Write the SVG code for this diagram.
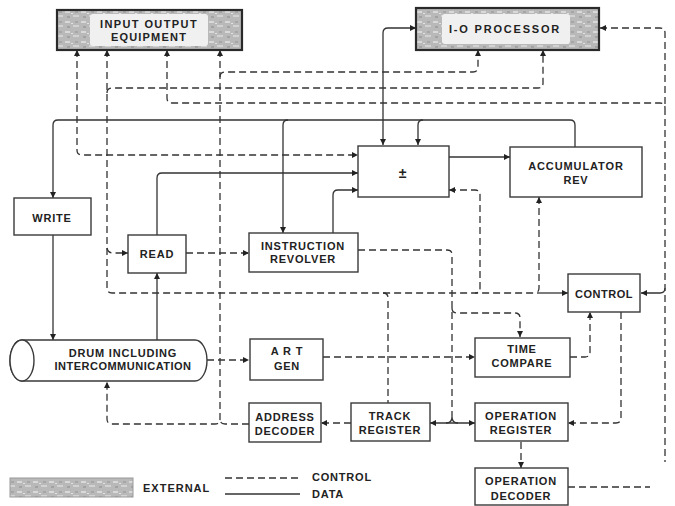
<svg xmlns="http://www.w3.org/2000/svg" width="675" height="506" viewBox="0 0 675 506">
<defs>
<pattern id="mottle" width="16" height="10" patternUnits="userSpaceOnUse">
<rect width="16" height="10" fill="#b9b9b9"/>
<rect x="1" y="1" width="5" height="2" fill="#d9d9d9"/>
<rect x="9" y="5" width="6" height="2" fill="#d2d2d2"/>
<rect x="3" y="6" width="3" height="2" fill="#a2a2a2"/>
<rect x="11" y="1" width="3" height="2" fill="#a6a6a6"/>
<rect x="7" y="3" width="2" height="1" fill="#e2e2e2"/>
</pattern>
<marker id="ah" markerWidth="7" markerHeight="7" refX="6" refY="3" orient="auto-start-reverse" markerUnits="userSpaceOnUse">
<path d="M0,0 L6,3 L0,6 z" fill="#222"/>
</marker>
<style>
.box{fill:#fff;stroke:#3a3a3a;stroke-width:1.4}
.ext{fill:url(#mottle);stroke:#2a2a2a;stroke-width:2.2}
.inner{fill:#f0f0f0;stroke:none}
.t{font-family:"Liberation Sans",Arial,sans-serif;font-weight:bold;font-size:11px;fill:#222;text-anchor:middle;letter-spacing:0.8px}
.lt{font-family:"Liberation Sans",Arial,sans-serif;font-weight:bold;font-size:11px;fill:#222;letter-spacing:0.8px}
.d{fill:none;stroke:#333;stroke-width:1.3}
.c{fill:none;stroke:#333;stroke-width:1.3;stroke-dasharray:7 4}
.a{marker-end:url(#ah)}
.s{marker-start:url(#ah)}
</style>
</defs>
<rect width="675" height="506" fill="#fff"/>

<g id="connectors">
<!-- data (solid) -->
<path class="d a" d="M575,147 V125 Q575,120 570,120 H58 Q53,120 53,125 V198"/>
<path class="d a" d="M288,120 Q283,120 283,125 V233"/>
<path class="d a" d="M423,120 Q418,120 418,125 V145"/>
<path class="d a s" d="M416,28 H388 Q383,28 383,33 V145"/>
<path class="d a" d="M449,157 H510"/>
<path class="d a" d="M157,235 V178 Q157,173 162,173 H358"/>
<path class="d a" d="M333,233 V195 Q333,190 338,190 H358"/>
<path class="d a" d="M53,235 V340"/>
<path class="d a" d="M157,340 V273"/>
<path class="d a" d="M665,288 Q665,293 660,293 H641"/>
<path class="d a" d="M538,293 H568"/>
<path class="d a s" d="M430,423 H475"/>
<path class="d" d="M446,423 Q452,423 452,417 M458,423 Q452,423 452,417"/>

<!-- control (dashed) -->
<path class="c a s" d="M77,50 V150 Q77,155 82,155 H358"/>
<path class="c s" d="M107,50 V288 Q107,293 112,293 H538"/>
<path class="c a" d="M107,93 Q107,88 112,88 H538 Q543,88 543,83 V50"/>
<path class="c a" d="M107,248 Q108,253 113,253 H128"/>
<path class="c s" d="M167,50 V98 Q167,103 172,103 H660 Q665,103 665,108"/>
<path class="c a s" d="M220,50 V419 Q220,424 215,424 H112 Q107,424 107,419 V382"/>
<path class="c" d="M249,424 H225 Q220,424 220,419"/>
<path class="c a" d="M220,77 Q220,72 225,72 H473 Q478,72 478,67 V50"/>
<path class="c s" d="M600,28 H660 Q665,28 665,33 V462"/>
<path class="c a" d="M186,253 H249"/>
<path class="c a" d="M207,360 H249"/>
<path class="c a" d="M323,357 H475"/>
<path class="c" d="M358,250 H447 Q452,250 452,255 V417"/>
<path class="c a" d="M452,308 Q452,313 457,313 H515 Q520,313 520,318 V337"/>
<path class="c s" d="M449,190 H475 Q480,190 480,195 V288 Q480,293 475,293"/>
<path class="c s" d="M539,197 V288 Q539,293 534,293"/>
<path class="c" d="M383,293 Q388,293 388,298 V403"/>
<path class="c a" d="M570,357 H585 Q590,357 590,352 V312"/>
<path class="c a" d="M621,312 V418 Q621,423 616,423 H568"/>
<path class="c a" d="M521,442 V468"/>
<path class="c" d="M568,487 H650"/>
<path class="c a" d="M351,423 H321"/>
</g>

<g id="io-equipment">
<rect class="ext" x="57" y="10" width="185" height="40"/>
<rect class="inner" x="90" y="14" width="118" height="32" rx="3"/>
<text class="t" x="149" y="28" style="letter-spacing:1.4px">INPUT OUTPUT</text>
<text class="t" x="149" y="41" style="letter-spacing:1.2px">EQUIPMENT</text>
</g>

<g id="io-processor">
<rect class="ext" x="416" y="8" width="183" height="42"/>
<rect class="inner" x="442" y="14" width="128" height="30" rx="3"/>
<text class="t" x="505" y="33" style="letter-spacing:1.8px">I-O PROCESSOR</text>
</g>

<g id="plus-minus">
<rect class="box" x="358" y="146" width="91" height="51"/>
<text class="t" x="403" y="178" style="font-size:14px">±</text>
</g>

<g id="accumulator">
<rect class="box" x="510" y="147" width="132" height="50"/>
<text class="t" x="576" y="170" style="letter-spacing:0.9px">ACCUMULATOR</text>
<text class="t" x="576" y="184">REV</text>
</g>

<g id="write">
<rect class="box" x="14" y="198" width="77" height="37"/>
<text class="t" x="52" y="222">WRITE</text>
</g>

<g id="read">
<rect class="box" x="128" y="235" width="58" height="38"/>
<text class="t" x="157" y="258">READ</text>
</g>

<g id="instruction-revolver">
<rect class="box" x="249" y="233" width="109" height="39"/>
<text class="t" x="303" y="250">INSTRUCTION</text>
<text class="t" x="303" y="263">REVOLVER</text>
</g>

<g id="control">
<rect class="box" x="568" y="274" width="72" height="38"/>
<text class="t" x="604" y="298" style="letter-spacing:0.5px">CONTROL</text>
</g>

<g id="drum">
<path class="box" d="M22,340 H195 A12,20.5 0 0 1 195,381 H22 A12,20.5 0 0 1 22,340 Z"/>
<ellipse class="box" cx="22" cy="360.5" rx="12" ry="20.5"/>
<text class="t" x="123" y="357">DRUM INCLUDING</text>
<text class="t" x="123" y="370" style="letter-spacing:0.5px">INTERCOMMUNICATION</text>
</g>

<g id="art-gen">
<rect class="box" x="250" y="339" width="73" height="41"/>
<text class="t" x="287" y="355">A R T</text>
<text class="t" x="287" y="370">GEN</text>
</g>

<g id="time-compare">
<rect class="box" x="475" y="338" width="95" height="39"/>
<text class="t" x="522" y="353">TIME</text>
<text class="t" x="522" y="367">COMPARE</text>
</g>

<g id="address-decoder">
<rect class="box" x="249" y="403" width="72" height="39"/>
<text class="t" x="285" y="421">ADDRESS</text>
<text class="t" x="285" y="435">DECODER</text>
</g>

<g id="track-register">
<rect class="box" x="351" y="403" width="79" height="38"/>
<text class="t" x="390" y="420">TRACK</text>
<text class="t" x="390" y="434">REGISTER</text>
</g>

<g id="operation-register">
<rect class="box" x="475" y="403" width="93" height="38"/>
<text class="t" x="521" y="420">OPERATION</text>
<text class="t" x="521" y="434">REGISTER</text>
</g>

<g id="operation-decoder">
<rect class="box" x="475" y="468" width="93" height="37"/>
<text class="t" x="521" y="485">OPERATION</text>
<text class="t" x="521" y="500">DECODER</text>
</g>

<g id="legend">
<rect x="10" y="478" width="123" height="19" fill="url(#mottle)" stroke="#999" stroke-width="1"/>
<text class="lt" x="143" y="492" style="letter-spacing:1px">EXTERNAL</text>
<line class="c" x1="225" y1="478" x2="300" y2="478"/>
<line class="d" x1="225" y1="494" x2="300" y2="494"/>
<text class="lt" x="312" y="481">CONTROL</text>
<text class="lt" x="312" y="498">DATA</text>
</g>
</svg>
